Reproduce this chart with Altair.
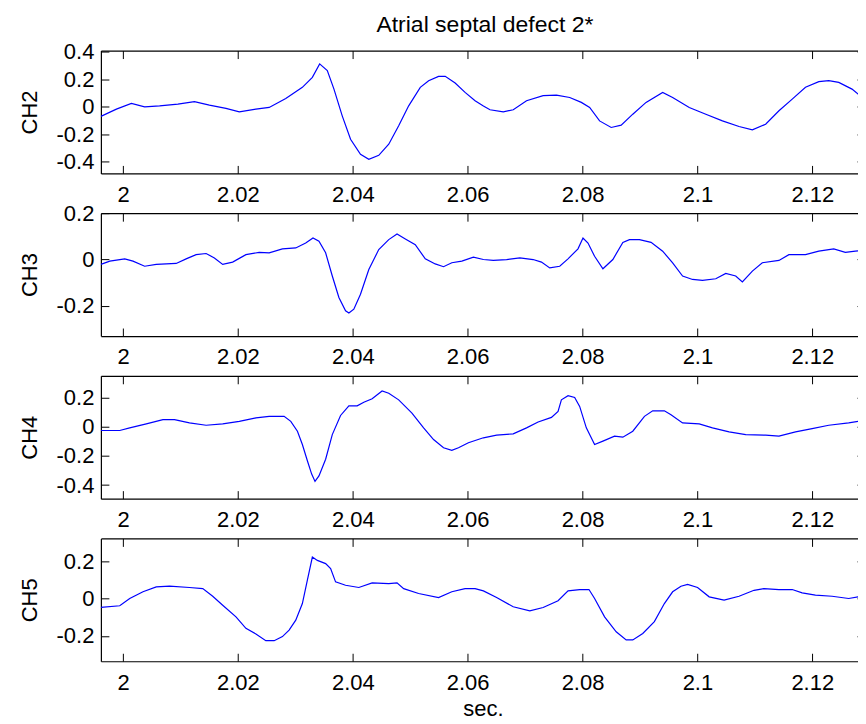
import altair as alt
import pandas as pd

TITLE = "Atrial septal defect 2*"
X_LABEL = "sec."
CHANNELS = ["CH2", "CH3", "CH4", "CH5"]
X_DOMAIN = [1.99614, 2.12918]
X_TICKS = [2.0, 2.02, 2.04, 2.06, 2.08, 2.1, 2.12]
Y_DOMAINS = {
    "CH2": [-0.486, 0.41],
    "CH3": [-0.33, 0.2],
    "CH4": [-0.493, 0.349],
    "CH5": [-0.336, 0.322],
}
Y_TICKS = {
    "CH2": [-0.4, -0.2, 0, 0.2, 0.4],
    "CH3": [-0.2, 0, 0.2],
    "CH4": [-0.4, -0.2, 0, 0.2],
    "CH5": [-0.2, 0, 0.2],
}

ch2_t = [1.99614, 1.99884, 2.00145, 2.00376, 2.00636, 2.00954, 2.01243, 2.01503, 2.01792, 2.02024,
         2.02313, 2.02544, 2.02833, 2.03122, 2.03296, 2.03423, 2.03556, 2.03672, 2.03816, 2.03961,
         2.04134, 2.04279, 2.04452, 2.04626, 2.04799, 2.04973, 2.05175, 2.05320, 2.05493, 2.05609,
         2.05782, 2.05955, 2.06129, 2.06274, 2.06389, 2.06620, 2.06794, 2.07025, 2.07314, 2.07546,
         2.07777, 2.07979, 2.08124, 2.08297, 2.08499, 2.08673, 2.08875, 2.09106, 2.09395, 2.09569,
         2.09858, 2.10147, 2.10436, 2.10725, 2.10957, 2.11188, 2.11420, 2.11651, 2.11882, 2.12114,
         2.12287, 2.12461, 2.12692, 2.12894]
ch2_v = [-0.070, -0.017, 0.024, 0.000, 0.007, 0.020, 0.037, 0.012, -0.012, -0.037,
         -0.017, -0.005, 0.061, 0.142, 0.215, 0.313, 0.264, 0.129, -0.066, -0.237,
         -0.347, -0.383, -0.354, -0.273, -0.139, 0.007, 0.142, 0.190, 0.222, 0.222,
         0.173, 0.105, 0.044, 0.005, -0.022, -0.037, -0.022, 0.044, 0.081, 0.085,
         0.068, 0.032, -0.005, -0.103, -0.151, -0.134, -0.054, 0.032, 0.105, 0.068,
         -0.005, -0.054, -0.103, -0.144, -0.168, -0.127, -0.029, 0.056, 0.142, 0.183,
         0.190, 0.178, 0.129, 0.061]

ch3_t = [1.99614, 1.99769, 2.00029, 2.00173, 2.00376, 2.00578, 2.00925, 2.01098, 2.01272, 2.01446,
         2.01590, 2.01735, 2.01908, 2.02139, 2.02370, 2.02544, 2.02775, 2.03007, 2.03180, 2.03307,
         2.03411, 2.03527, 2.03643, 2.03758, 2.03874, 2.03932, 2.04018, 2.04134, 2.04279, 2.04452,
         2.04626, 2.04770, 2.04915, 2.05088, 2.05262, 2.05435, 2.05580, 2.05724, 2.05898, 2.06100,
         2.06274, 2.06446, 2.06678, 2.06909, 2.07140, 2.07285, 2.07429, 2.07603, 2.07747, 2.07921,
         2.08008, 2.08095, 2.08210, 2.08355, 2.08528, 2.08702, 2.08817, 2.08991, 2.09193, 2.09395,
         2.09569, 2.09742, 2.09916, 2.10089, 2.10320, 2.10494, 2.10667, 2.10783, 2.10957, 2.11130,
         2.11420, 2.11593, 2.11882, 2.12114, 2.12374, 2.12576, 2.12750, 2.12911]
ch3_v = [-0.021, -0.007, 0.003, -0.007, -0.029, -0.021, -0.017, 0.003, 0.021, 0.026,
         0.007, -0.021, -0.011, 0.021, 0.031, 0.029, 0.046, 0.050, 0.071, 0.093,
         0.079, 0.029, -0.071, -0.164, -0.221, -0.231, -0.214, -0.150, -0.043, 0.043,
         0.086, 0.110, 0.089, 0.064, 0.003, -0.019, -0.031, -0.014, -0.007, 0.010,
         0.000, -0.004, 0.000, 0.007, 0.000, -0.011, -0.036, -0.029, 0.003, 0.046,
         0.093, 0.071, 0.014, -0.040, 0.000, 0.074, 0.086, 0.086, 0.074, 0.036,
         -0.014, -0.071, -0.086, -0.090, -0.083, -0.060, -0.071, -0.097, -0.050, -0.014,
         -0.004, 0.021, 0.021, 0.036, 0.046, 0.031, 0.036, 0.040]

ch4_t = [1.99614, 1.99942, 2.00116, 2.00405, 2.00694, 2.00896, 2.01156, 2.01446, 2.01735, 2.02024,
         2.02313, 2.02544, 2.02804, 2.02920, 2.03036, 2.03122, 2.03209, 2.03284, 2.03342, 2.03411,
         2.03527, 2.03643, 2.03787, 2.03932, 2.04076, 2.04192, 2.04337, 2.04510, 2.04626, 2.04799,
         2.05030, 2.05233, 2.05406, 2.05580, 2.05724, 2.05840, 2.06013, 2.06274, 2.06504, 2.06793,
         2.07025, 2.07227, 2.07459, 2.07574, 2.07632, 2.07748, 2.07863, 2.07950, 2.08066, 2.08210,
         2.08355, 2.08557, 2.08702, 2.08875, 2.09078, 2.09222, 2.09425, 2.09540, 2.09742, 2.10031,
         2.10263, 2.10552, 2.10841, 2.11188, 2.11420, 2.11709, 2.11998, 2.12287, 2.12634, 2.12808,
         2.12911]
ch4_v = [-0.026, -0.026, -0.008, 0.019, 0.048, 0.048, 0.026, 0.010, 0.019, 0.037,
         0.060, 0.071, 0.071, 0.037, -0.031, -0.122, -0.233, -0.325, -0.375, -0.337,
         -0.223, -0.054, 0.077, 0.143, 0.143, 0.168, 0.191, 0.245, 0.229, 0.184,
         0.093, -0.008, -0.088, -0.144, -0.162, -0.144, -0.110, -0.076, -0.058, -0.049,
         -0.008, 0.032, 0.064, 0.105, 0.184, 0.213, 0.200, 0.139, -0.008, -0.122,
         -0.099, -0.065, -0.072, -0.031, 0.071, 0.109, 0.109, 0.082, 0.026, 0.019,
         -0.008, -0.036, -0.054, -0.058, -0.065, -0.036, -0.013, 0.010, 0.026, 0.037,
         0.014]

ch5_t = [1.99614, 1.99942, 2.00116, 2.00347, 2.00578, 2.00809, 2.01156, 2.01388, 2.01561, 2.01735,
         2.01966, 2.02139, 2.02313, 2.02486, 2.02631, 2.02775, 2.02891, 2.03007, 2.03122, 2.03209,
         2.03296, 2.03383, 2.03527, 2.03614, 2.03700, 2.03874, 2.04105, 2.04337, 2.04626, 2.04770,
         2.04886, 2.05146, 2.05493, 2.05724, 2.05955, 2.06129, 2.06274, 2.06504, 2.06793, 2.07082,
         2.07314, 2.07574, 2.07748, 2.07950, 2.08112, 2.08210, 2.08384, 2.08586, 2.08760, 2.08875,
         2.09049, 2.09251, 2.09425, 2.09569, 2.09714, 2.09830, 2.10003, 2.10205, 2.10465, 2.10725,
         2.10986, 2.11159, 2.11420, 2.11651, 2.11824, 2.12055, 2.12345, 2.12634, 2.12808, 2.12911]
ch5_v = [-0.048, -0.039, 0.000, 0.036, 0.062, 0.066, 0.059, 0.053, 0.012, -0.036,
         -0.098, -0.160, -0.190, -0.226, -0.226, -0.204, -0.169, -0.116, -0.027, 0.098,
         0.222, 0.204, 0.187, 0.160, 0.089, 0.071, 0.059, 0.084, 0.080, 0.084,
         0.053, 0.027, 0.005, 0.036, 0.053, 0.053, 0.041, 0.005, -0.044, -0.066,
         -0.048, -0.012, 0.041, 0.048, 0.048, 0.000, -0.098, -0.178, -0.222, -0.222,
         -0.187, -0.124, -0.027, 0.036, 0.066, 0.076, 0.059, 0.009, -0.009, 0.012,
         0.044, 0.053, 0.048, 0.048, 0.030, 0.018, 0.012, 0.000, 0.009, 0.000]

SERIES = {"CH2": (ch2_t, ch2_v), "CH3": (ch3_t, ch3_v), "CH4": (ch4_t, ch4_v), "CH5": (ch5_t, ch5_v)}

FONT = "Liberation Sans"
FS = 22
W, H = 765, 123
LBL = "toString(datum.value)"


def panel(name, first, last):
    t, v = SERIES[name]
    df = pd.DataFrame({"t": t, "v": v})
    xs = alt.Scale(domain=X_DOMAIN, nice=False, zero=False)
    ys = alt.Scale(domain=Y_DOMAINS[name], nice=False, zero=False)
    common = dict(labelFont=FONT, labelFontSize=FS, labelColor="black", titleFont=FONT,
                  titleFontSize=FS, titleFontWeight="normal", titleColor="black", grid=False,
                  domainColor="black", domainWidth=1.2, labelOverlap=False)
    xaxis = dict(values=X_TICKS, labelExpr=LBL, tickSize=0, labelPadding=11, labelFlush=False,
                 titlePadding=5.5, **common)
    xaxis["title"] = X_LABEL if last else None
    main = alt.Chart(df).mark_line(color="#0000ff", strokeWidth=1.2, clip=True).encode(
        x=alt.X("t:Q", scale=xs, axis=alt.Axis(**xaxis)),
        y=alt.Y("v:Q", scale=ys, axis=alt.Axis(values=Y_TICKS[name], labelExpr=LBL, tickSize=0,
                                               labelPadding=7, title=name, titlePadding=9.5,
                                               minExtent=50, maxExtent=50, **common)),
    )
    tk = dict(labels=False, tickColor="black", tickWidth=1, grid=False, title=None,
              domainColor="black", domainWidth=1.2, minExtent=0)
    h1 = alt.Chart(df).mark_line(strokeOpacity=0).encode(
        x=alt.X("t:Q", scale=xs, axis=alt.Axis(orient="bottom", offset=-H, values=X_TICKS,
                                               domain=True, tickSize=8, **tk)),
        y=alt.Y("v:Q", scale=ys, axis=alt.Axis(orient="right", offset=-W, values=Y_TICKS[name],
                                               domain=False, tickSize=8, **tk)),
    )
    h2 = alt.Chart(df).mark_line(strokeOpacity=0).encode(
        x=alt.X("t:Q", scale=xs, axis=alt.Axis(orient="top", offset=-H, values=X_TICKS,
                                               domain=False, tickSize=8, **tk)),
        y=alt.Y("v:Q", scale=ys, axis=alt.Axis(orient="left", offset=-W, values=Y_TICKS[name],
                                               domain=False, tickSize=8, **tk)),
    )
    props = dict(width=W, height=H)
    if first:
        props["title"] = alt.TitleParams(TITLE, font=FONT, fontSize=23, fontWeight="normal",
                                         color="black", anchor="middle", frame="group",
                                         baseline="alphabetic", offset=-14.5, dx=2)
    return alt.layer(main, h1, h2).resolve_axis(x="independent", y="independent").properties(**props)


panels = [panel(n, i == 0, i == len(CHANNELS) - 1) for i, n in enumerate(CHANNELS)]
chart = alt.vconcat(*panels, spacing=39.8, bounds="flush").properties(
    padding={"left": 10, "top": 5.2, "right": -8, "bottom": 0},
    background="white",
).configure_view(stroke=None)

chart.save("out.html", embed_options={"renderer": "svg", "actions": False})
